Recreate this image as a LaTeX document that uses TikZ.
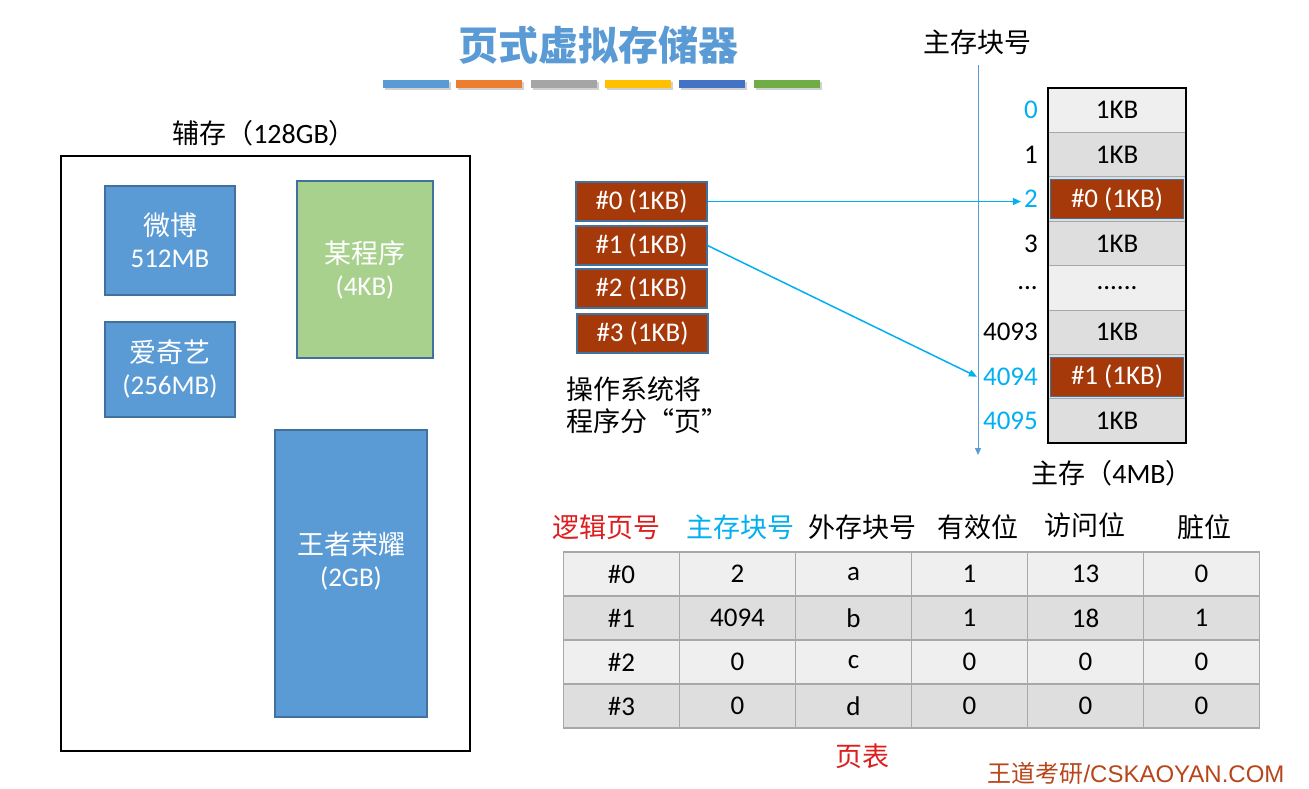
\documentclass[tikz,border=0pt]{standalone}
\usepackage{fontspec}
\setmainfont{Carlito}
\newfontfamily\cjk{Noto Sans CJK SC}
\newfontfamily\brandfont{Liberation Sans}
\usepackage{xcolor}
\usepackage{tikz}
\usetikzlibrary{arrows.meta,positioning,fit}
\definecolor{titleblue}{RGB}{91,155,213}
\definecolor{boxedge}{RGB}{65,113,156}
\definecolor{progreen}{RGB}{169,209,142}
\definecolor{pagered}{RGB}{166,57,10}
\definecolor{linkblue}{RGB}{0,176,240}
\definecolor{rowlight}{RGB}{239,239,239}
\definecolor{rowdark}{RGB}{222,222,222}
\definecolor{gridgray}{RGB}{168,168,168}
\definecolor{headred}{RGB}{220,30,30}
\definecolor{brandred}{RGB}{184,70,27}
\definecolor{barorange}{RGB}{237,125,49}
\definecolor{bargray}{RGB}{165,165,165}
\definecolor{bargold}{RGB}{255,192,0}
\definecolor{bardark}{RGB}{68,114,196}
\definecolor{bargreen}{RGB}{112,173,71}
\tikzset{
  app/.style={draw=boxedge, fill=titleblue, text=white, align=center,
              inner sep=0pt, outer sep=0pt, line width=1.2pt,
              font=\fontsize{27}{32}\selectfont},
  pagebox/.style={draw=boxedge, fill=pagered, text=white, inner sep=0pt,
              minimum width=131pt, minimum height=39pt, line width=1.2pt,
              font=\fontsize{27}{30}\selectfont},
  memrow/.style={draw=gridgray, line width=1pt, inner sep=0pt, outer sep=0pt,
              minimum width=138pt, minimum height=44.4pt,
              font=\fontsize{27}{30}\selectfont},
  blk/.style={inner sep=3pt, font=\fontsize{27}{30}\selectfont},
  tcell/.style={draw=gridgray, line width=1.2pt, inner sep=0pt, outer sep=0pt,
              minimum width=116pt, minimum height=44pt,
              font=\fontsize{27}{30}\selectfont},
  lt/.style={tcell, fill=rowlight},
  dk/.style={tcell, fill=rowdark},
  zh/.style={font=\cjk\fontsize{27}{32}\selectfont},
  link/.style={-{Triangle[length=8pt,width=7pt]}, draw=linkblue, line width=1.5pt},
}
\begin{document}
\begin{tikzpicture}[x=1pt, y=-1pt]
  \useasboundingbox[fill=white] (0,0) rectangle (1309,788);
  % title and colour bars
  \node[font=\cjk\bfseries\fontsize{40}{42}\selectfont, text=titleblue] (title)
    at (598,45) {页式虚拟存储器};
  \fill[black!18] (385,82) rectangle (451,90);
  \fill[black!18] (458,82) rectangle (524,90);
  \fill[black!18] (533,82) rectangle (599,90);
  \fill[black!18] (607,82) rectangle (673,90);
  \fill[black!18] (681,82) rectangle (747,90);
  \fill[black!18] (756,82) rectangle (822,90);
  \fill[titleblue] (383,80) rectangle (449,88);
  \fill[barorange] (456,80) rectangle (522,88);
  \fill[bargray]   (531,80) rectangle (597,88);
  \fill[bargold]   (605,80) rectangle (671,88);
  \fill[bardark]   (679,80) rectangle (745,88);
  \fill[bargreen]  (754,80) rectangle (820,88);
  % secondary storage
  \node[draw, line width=1.3pt, minimum width=409pt, minimum height=595pt,
        inner sep=0pt] (disk) at (265.5,453.5) {};
  \node[zh] (disklbl) at (264,133) {辅存（{\rmfamily\fontsize{28}{32}\selectfont 128GB}）};
  \node[app, minimum width=130pt, minimum height=109pt] (weibo)
    at (170,240.5) {{\cjk 微博}\\512MB};
  \node[app, minimum width=130pt, minimum height=95pt] (iqiyi)
    at (170,369.5) {{\cjk 爱奇艺}\\(256MB)};
  \node[app, fill=progreen, minimum width=136pt, minimum height=177pt] (prog)
    at (365,269.5) {{\cjk 某程序}\\(4KB)};
  \node[app, minimum width=152pt, minimum height=287pt] (wzry)
    at (351,573.5) {{\cjk 王者荣耀}\\(2GB)\\[-4pt]};
  % pages of the program
  \node[pagebox] (p0) at (641.5,201.5) {\#0 (1KB)};
  \node[pagebox] (p1) at (641.5,245.5) {\#1 (1KB)};
  \node[pagebox] (p2) at (641.5,288.5) {\#2 (1KB)};
  \node[pagebox] (p3) at (642.5,333.5) {\#3 (1KB)};
  \node[zh, anchor=north west, align=left] (osnote) at (563,373)
    {操作系统将\\程序分“页”};
  % main memory frames
  \node[memrow, fill=rowlight] (m0) at (1117,110.2) {1KB};
  \node[memrow, fill=rowdark, below=0pt of m0] (m1) {1KB};
  \node[memrow, fill=rowdark, below=0pt of m1] (m2) {};
  \node[memrow, fill=rowdark, below=0pt of m2] (m3) {1KB};
  \node[memrow, fill=rowlight, below=0pt of m3] (m4) {......};
  \node[memrow, fill=rowdark, below=0pt of m4] (m5) {1KB};
  \node[memrow, fill=rowdark, below=0pt of m5] (m6) {};
  \node[memrow, fill=rowdark, below=0pt of m6] (m7) {1KB};
  \node[fit=(m0)(m7), draw, line width=1.5pt, inner sep=0pt] (mem) {};
  \node[pagebox, minimum width=133pt] (f2) at (m2) {\#0 (1KB)};
  \node[pagebox, minimum width=133pt] (f6) at (m6) {\#1 (1KB)};
  \node[blk, text=linkblue, left=7pt of m0] (n0) {0};
  \node[blk, left=7pt of m1] (n1) {1};
  \node[blk, text=linkblue, left=7pt of m2] (n2) {2};
  \node[blk, left=7pt of m3] (n3) {3};
  \node[blk, left=7pt of m4] (n4) {...};
  \node[blk, left=7pt of m5] (n5) {4093};
  \node[blk, text=linkblue, left=7pt of m6] (n6) {4094};
  \node[blk, text=linkblue, left=7pt of m7] (n7) {4095};
  \node[zh] (memlbl) at (1112,473) {主存（{\rmfamily\fontsize{28}{32}\selectfont 4MB}）};
  % frame number axis
  \node[zh] (axlbl) at (977,42) {主存块号};
  \coordinate (axbot) at (978,455);
  \draw[-{Triangle[length=7pt,width=6pt]}, titleblue, line width=1pt]
    ([yshift=-7pt]axlbl.south -| axbot) -- (axbot);
  % mapping
  \draw[link] (p0.east) -- (p0.east -| n2.west);
  \draw[link] (p1.east) -- ([xshift=-3pt]n6.west);
  % page table
  \node[zh, text=headred] (h0) at (606,527) {逻辑页号};
  \node[zh, text=linkblue] (h1) at (740,527) {主存块号};
  \node[zh] (h2) at (862,527) {外存块号};
  \node[zh] (h3) at (978,527) {有效位};
  \node[zh] (h4) at (1085,525) {访问位};
  \node[zh] (h5) at (1204,527) {脏位};
  \node[lt] (t00) at (621.5,574) {\#0};
  \node[lt, right=0pt of t00] (t01) {2};
  \node[lt, right=0pt of t01] (t02) {a};
  \node[lt, right=0pt of t02] (t03) {1};
  \node[lt, right=0pt of t03] (t04) {13};
  \node[lt, right=0pt of t04] (t05) {0};
  \node[dk, below=0pt of t00] (t10) {\#1};
  \node[dk, right=0pt of t10] (t11) {4094};
  \node[dk, right=0pt of t11] (t12) {b};
  \node[dk, right=0pt of t12] (t13) {1};
  \node[dk, right=0pt of t13] (t14) {18};
  \node[dk, right=0pt of t14] (t15) {1};
  \node[lt, below=0pt of t10] (t20) {\#2};
  \node[lt, right=0pt of t20] (t21) {0};
  \node[lt, right=0pt of t21] (t22) {c};
  \node[lt, right=0pt of t22] (t23) {0};
  \node[lt, right=0pt of t23] (t24) {0};
  \node[lt, right=0pt of t24] (t25) {0};
  \node[dk, below=0pt of t20] (t30) {\#3};
  \node[dk, right=0pt of t30] (t31) {0};
  \node[dk, right=0pt of t31] (t32) {d};
  \node[dk, right=0pt of t32] (t33) {0};
  \node[dk, right=0pt of t33] (t34) {0};
  \node[dk, right=0pt of t34] (t35) {0};
  \node[zh, text=headred] (ptlbl) at (862,756) {页表};
  \node[text=brandred, font=\brandfont\fontsize{24}{26}\selectfont] (brand)
    at (1136,773) {{\cjk 王道考研}/CSKAOYAN.COM};
\end{tikzpicture}
\end{document}
